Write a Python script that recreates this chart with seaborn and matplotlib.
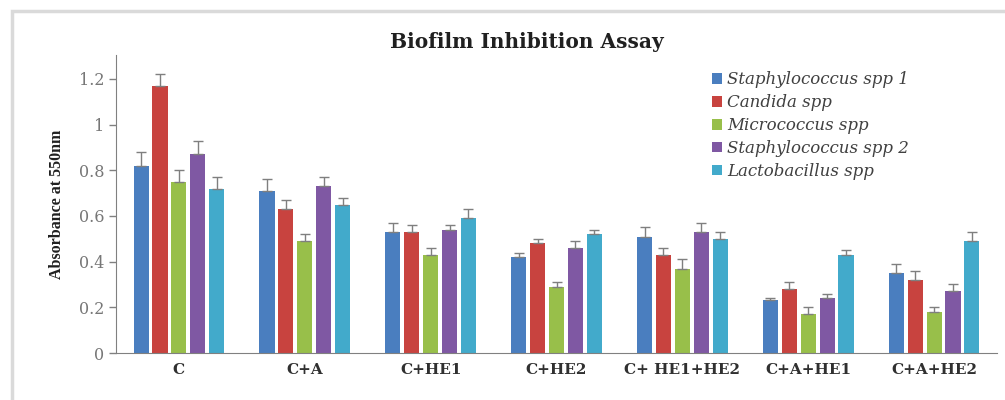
import numpy as np
import pandas as pd
import matplotlib.pyplot as plt
import seaborn as sns
from matplotlib.patches import Rectangle

treatments = ['C', 'C+A', 'C+HE1', 'C+HE2', 'C+ HE1+HE2', 'C+A+HE1', 'C+A+HE2']
organisms = ['Staphylococcus spp 1', 'Candida spp', 'Micrococcus spp',
             'Staphylococcus spp 2', 'Lactobacillus spp']

staph1 = [0.82, 0.71, 0.53, 0.42, 0.51, 0.23, 0.35]
candida = [1.17, 0.63, 0.53, 0.48, 0.43, 0.28, 0.32]
micro = [0.75, 0.49, 0.43, 0.29, 0.37, 0.17, 0.18]
staph2 = [0.87, 0.73, 0.54, 0.46, 0.53, 0.24, 0.27]
lacto = [0.72, 0.65, 0.59, 0.52, 0.50, 0.43, 0.49]

staph1_err = [0.06, 0.05, 0.04, 0.02, 0.04, 0.01, 0.04]
candida_err = [0.05, 0.04, 0.03, 0.02, 0.03, 0.03, 0.04]
micro_err = [0.05, 0.03, 0.03, 0.02, 0.04, 0.03, 0.02]
staph2_err = [0.06, 0.04, 0.02, 0.03, 0.04, 0.02, 0.03]
lacto_err = [0.05, 0.03, 0.04, 0.02, 0.03, 0.02, 0.04]

colors = ['#4a7ebf', '#c8433f', '#98bf4a', '#7f58a3', '#42aacb']

values = [staph1, candida, micro, staph2, lacto]
errors = [staph1_err, candida_err, micro_err, staph2_err, lacto_err]

rows = []
for org, vals in zip(organisms, values):
    for t, v in zip(treatments, vals):
        rows.append({'treatment': t, 'organism': org, 'absorbance': v})
df = pd.DataFrame(rows)

sns.set_style('ticks')
plt.rcParams['font.family'] = ['DejaVu Serif']

fig = plt.figure(figsize=(10.05, 4), dpi=100)
ax = fig.add_axes([116 / 1005, 47 / 400, (997 - 116) / 1005, 298 / 400])

sns.barplot(data=df, x='treatment', y='absorbance', hue='organism',
            order=treatments, hue_order=organisms, palette=colors,
            width=0.75, gap=0.2, errorbar=None, saturation=1,
            linewidth=0, ax=ax)

for cont, errs in zip(ax.containers, errors):
    for bar, e in zip(cont, errs):
        xc = bar.get_x() + bar.get_width() / 2
        ax.errorbar(xc, bar.get_height(), yerr=[[0], [e]], fmt='none',
                    ecolor='#7f7f7f', elinewidth=1, capsize=3.5, capthick=1)

ax.set_ylim(0, 1.305)
ax.set_xlim(-0.5, len(treatments) - 0.5)
ax.set_yticks([0, 0.2, 0.4, 0.6, 0.8, 1.0, 1.2])
ax.set_yticklabels(['0', '0.2', '0.4', '0.6', '0.8', '1', '1.2'])
ax.tick_params(axis='y', colors='#808080', labelsize=11.5, length=5, width=1,
               labelcolor='#777777')
ax.tick_params(axis='x', length=0, labelsize=11, pad=7)
for lbl in ax.get_xticklabels():
    lbl.set_fontweight('bold')
    lbl.set_color('#303030')
for s in ['top', 'right']:
    ax.spines[s].set_visible(False)
for s in ['left', 'bottom']:
    ax.spines[s].set_color('#808080')
ax.set_xlabel('')
ax.set_ylabel('Absorbance at 550nm', family='Liberation Serif',
              fontweight='bold', fontsize=11.5, color='#202020', labelpad=10)

handles, labels = ax.get_legend_handles_labels()
ax.legend(handles, labels, loc='upper left', bbox_to_anchor=(0.66, 0.995),
          frameon=False, handlelength=0.6, handleheight=0.6, handletextpad=0.3,
          labelspacing=0.35, prop={'style': 'italic', 'size': 12},
          labelcolor='#404040')

fig.text(527 / 1005, 1 - 42 / 400, 'Biofilm Inhibition Assay', ha='center',
         va='center', fontsize=14.5, fontweight='bold', color='#202020')

fig.patches.append(Rectangle((12 / 1005, -0.05), 1.2, 1.0225,
                             transform=fig.transFigure, fill=False,
                             edgecolor='#dadada', linewidth=2.5))

fig.savefig('out.png', dpi=100)
